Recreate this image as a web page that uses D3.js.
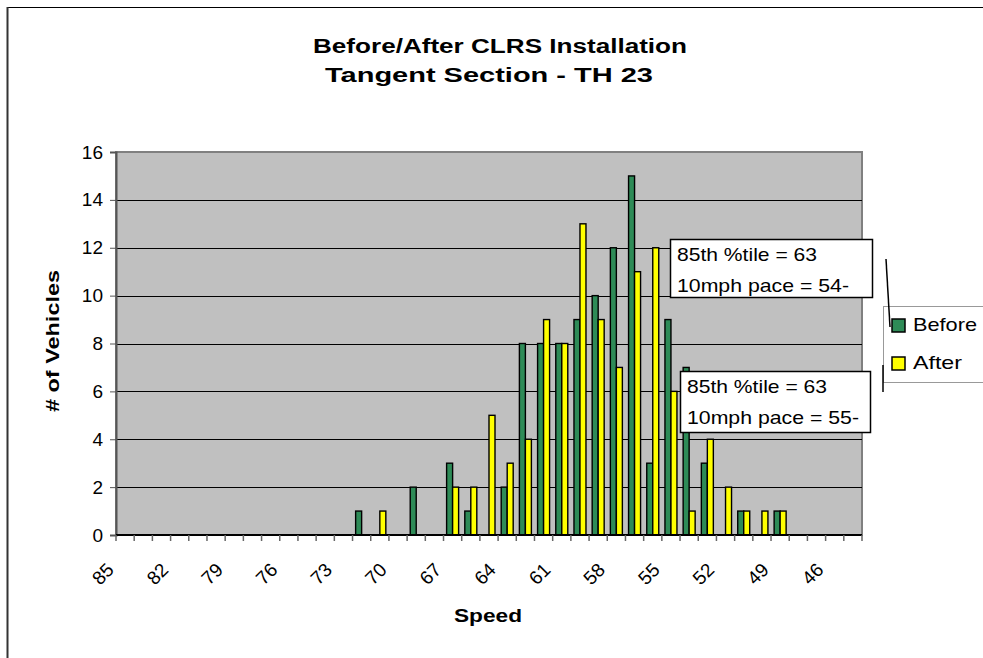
<!DOCTYPE html>
<html>
<head>
<meta charset="utf-8">
<script src="https://cdn.jsdelivr.net/npm/d3@7"></script>
<style>
  body { margin: 0; background: #fff; }
  text { font-family: Arial, "Liberation Sans", sans-serif; fill: #000; }
</style>
</head>
<body>
<div id="chart"></div>
<script>
// speeds on the x axis, highest first (85 down to 45)
var speeds = [85,84,83,82,81,80,79,78,77,76,75,74,73,72,71,70,69,68,67,66,
              65,64,63,62,61,60,59,58,57,56,55,54,53,52,51,50,49,48,47,46,45];
var xLabels = [85,82,79,76,73,70,67,64,61,58,55,52,49,46];
var yTicks = [0,2,4,6,8,10,12,14,16];

// number of vehicles per speed
var before = [0,0,0,0,0,0,0,0,0,0,0,0,0,1,0,0,2,0,3,1,
              0,2,8,8,8,9,10,12,15,3,9,7,3,0,1,0,1,0,0,0,0];
var after  = [0,0,0,0,0,0,0,0,0,0,0,0,0,0,1,0,0,0,2,2,
              5,3,4,9,8,13,9,7,11,12,6,1,4,2,1,1,1,0,0,0,0];

var seriesNames = ["Before", "After"];
var seriesColors = ["#2e8b57", "#ffff00"];

var titleLines = ["Before/After CLRS Installation", "Tangent Section - TH 23"];
var noteBefore = ["85th %tile = 63", "10mph pace = 54-"];
var noteAfter  = ["85th %tile = 63", "10mph pace = 55-"];

var width = 983, height = 658;
var plot = {l:116, r:862, t:152, b:535};

var svg = d3.select("#chart").append("svg")
    .attr("width", width)
    .attr("height", height);

// outer chart frame (runs off the picture on the right and bottom)
svg.append("rect")
    .attr("x", 7.5).attr("y", 7.5)
    .attr("width", 1000).attr("height", 700)
    .style("fill", "white")
    .style("stroke", "#000")
    .style("stroke-width", 1);
svg.append("line")
    .attr("x1", 7.5).attr("y1", 7).attr("x2", 7.5).attr("y2", height)
    .style("stroke", "#333").style("stroke-width", 2);

// title
svg.selectAll(".title")
    .data(titleLines)
    .enter()
    .append("text")
    .attr("class", "title")
    .attr("x", function(d, i){ return i == 0 ? 500 : 489; })
    .attr("y", function(d, i){ return 53 + i*29; })
    .attr("text-anchor", "middle")
    .attr("textLength", function(d, i){ return i == 0 ? 374 : 328; })
    .attr("lengthAdjust", "spacingAndGlyphs")
    .style("font-size", "20px")
    .style("font-weight", "bold")
    .text(function(d){ return d; });

var x = d3.scaleBand()
    .domain(speeds)
    .range([plot.l, plot.r])
    .padding(0);

var bw = x.bandwidth();
var xSub = d3.scaleBand()
    .domain(seriesNames)
    .range([bw/2 - 6, bw/2 + 6]);

var y = d3.scaleLinear()
    .domain([0, 16])
    .range([plot.b, plot.t]);

// plot background
svg.append("rect")
    .attr("x", plot.l).attr("y", plot.t)
    .attr("width", plot.r - plot.l).attr("height", plot.b - plot.t)
    .style("fill", "#c0c0c0")
    .style("stroke", "#808080")
    .style("stroke-width", 2);

// gridlines
svg.append("g")
    .selectAll("line")
    .data(yTicks.filter(function(d){ return d > 0 && d < 16; }))
    .enter()
    .append("line")
    .attr("x1", plot.l).attr("x2", plot.r)
    .attr("y1", function(d){ return Math.round(y(d)) + 0.5; })
    .attr("y2", function(d){ return Math.round(y(d)) + 0.5; })
    .style("stroke", "#000")
    .style("stroke-width", 1);

// bars
var groups = svg.append("g")
    .selectAll("g")
    .data(speeds)
    .enter()
    .append("g")
    .attr("transform", function(d){ return "translate(" + x(d) + ",0)"; });

groups.each(function(s, i){
    var g = d3.select(this);
    var vals = [before[i], after[i]];
    vals.forEach(function(v, k){
        if (v <= 0) return;
        g.append("rect")
            .attr("x", xSub(seriesNames[k]))
            .attr("y", y(v))
            .attr("width", xSub.bandwidth())
            .attr("height", y(0) - y(v))
            .style("fill", seriesColors[k])
            .style("stroke", "#000")
            .style("stroke-width", 1.4);
    });
});

// y axis
var yAxis = d3.axisLeft(y)
    .tickValues(yTicks)
    .tickSize(6)
    .tickPadding(7)
    .tickFormat(d3.format("d"));
var yg = svg.append("g")
    .attr("transform", "translate(" + plot.l + ",0)")
    .call(yAxis);
yg.select(".domain").style("stroke", "#555").style("stroke-width", 2);
yg.selectAll(".tick line").style("stroke", "#555");
yg.selectAll(".tick text")
    .style("font-size", "19px")
    .attr("fill", "#000");

// x axis: tick marks on category boundaries
var xg = svg.append("g");
xg.append("line")
    .attr("x1", plot.l).attr("x2", plot.r)
    .attr("y1", plot.b).attr("y2", plot.b)
    .style("stroke", "#000").style("stroke-width", 2);
xg.selectAll(".xt")
    .data(speeds.concat([null]))
    .enter()
    .append("line")
    .attr("class", "xt")
    .attr("x1", function(d){ return d === null ? plot.r : x(d); })
    .attr("x2", function(d){ return d === null ? plot.r : x(d); })
    .attr("y1", plot.b).attr("y2", plot.b + 6)
    .style("stroke", "#666").style("stroke-width", 1.5);

xg.selectAll(".xl")
    .data(xLabels)
    .enter()
    .append("text")
    .attr("class", "xl")
    .attr("text-anchor", "end")
    .attr("transform", function(d){
        return "translate(" + (x(d) - 1) + ",571) rotate(-45)";
    })
    .style("font-size", "19px")
    .text(function(d){ return d; });

// axis titles
svg.append("text")
    .attr("x", 488).attr("y", 622)
    .attr("text-anchor", "middle")
    .attr("textLength", 68)
    .attr("lengthAdjust", "spacingAndGlyphs")
    .style("font-size", "19px")
    .style("font-weight", "bold")
    .text("Speed");

svg.append("text")
    .attr("transform", "translate(59,341) rotate(-90)")
    .attr("text-anchor", "middle")
    .attr("textLength", 142)
    .attr("lengthAdjust", "spacingAndGlyphs")
    .style("font-size", "18px")
    .style("font-weight", "bold")
    .text("# of Vehicles");

// annotation boxes
function noteBox(lines, bx, by, bwid, bh, widths){
    var g = svg.append("g");
    g.append("rect")
        .attr("x", bx + 0.5).attr("y", by + 0.5)
        .attr("width", bwid).attr("height", bh)
        .style("fill", "white")
        .style("stroke", "#000")
        .style("stroke-width", 1.5);
    g.selectAll("text")
        .data(lines)
        .enter()
        .append("text")
        .attr("x", bx + 7)
        .attr("y", function(d, i){ return by + 22 + i*31; })
        .attr("textLength", function(d, i){ return widths[i]; })
        .attr("lengthAdjust", "spacingAndGlyphs")
        .style("font-size", "19px")
        .text(function(d){ return d; });
}
noteBox(noteBefore, 670, 239, 202, 58, [140, 172]);
noteBox(noteAfter, 680, 371, 190, 61, [140, 172]);

// legend
var leg = svg.append("g");
leg.append("rect")
    .attr("x", 883.5).attr("y", 306.5)
    .attr("width", 120).attr("height", 76)
    .style("fill", "white")
    .style("stroke", "#999")
    .style("stroke-width", 1);
leg.append("line")
    .attr("x1", 886).attr("y1", 259).attr("x2", 890).attr("y2", 327)
    .style("stroke", "#000").style("stroke-width", 1.5);
leg.append("line")
    .attr("x1", 883).attr("y1", 365).attr("x2", 883).attr("y2", 392)
    .style("stroke", "#000").style("stroke-width", 1.5);

var items = leg.selectAll(".li")
    .data(seriesNames)
    .enter()
    .append("g")
    .attr("class", "li")
    .attr("transform", function(d, i){ return "translate(892," + (319 + i*38) + ")"; });
items.append("rect")
    .attr("width", 13).attr("height", 13)
    .style("fill", function(d, i){ return seriesColors[i]; })
    .style("stroke", "#000")
    .style("stroke-width", 1.5);
items.append("text")
    .attr("x", 21).attr("y", 12)
    .attr("textLength", function(d, i){ return i == 0 ? 64 : 49; })
    .attr("lengthAdjust", "spacingAndGlyphs")
    .style("font-size", "19px")
    .text(function(d){ return d; });
</script>
</body>
</html>
